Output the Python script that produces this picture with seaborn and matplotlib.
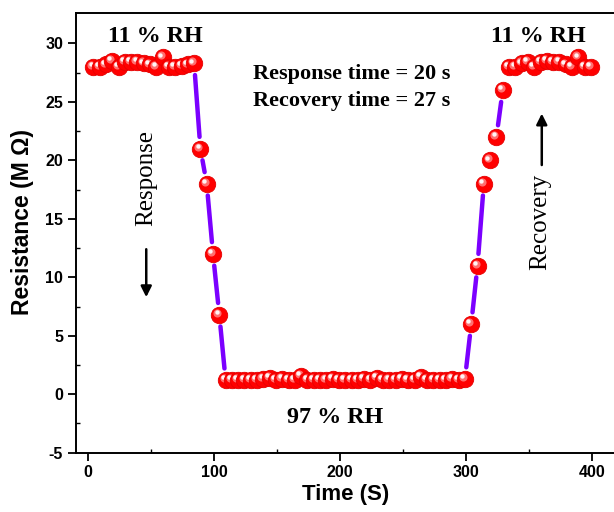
import numpy as np
import pandas as pd
import matplotlib
matplotlib.use("Agg")
import matplotlib.pyplot as plt
import matplotlib.transforms as mtransforms
import seaborn as sns

# Sampling every 5 s
time_s = list(range(4, 400, 5))

# Resistance (MOhm) at each sample
plateau_11_start = [28.0, 28.0, 28.2, 28.5, 28.0, 28.4, 28.4, 28.4, 28.3,
                    28.2, 28.0, 28.8, 28.0, 28.0, 28.1, 28.2, 28.3]
response_drop = [21.0, 18.0, 12.0, 6.8]
plateau_97 = [1.2, 1.2, 1.2, 1.2, 1.2, 1.2, 1.3, 1.4, 1.2, 1.3, 1.2, 1.2, 1.6,
              1.2, 1.2, 1.2, 1.2, 1.3, 1.2, 1.2, 1.2, 1.2, 1.3, 1.2, 1.4, 1.2,
              1.2, 1.2, 1.3, 1.2, 1.2, 1.5, 1.2, 1.2, 1.2, 1.2, 1.3, 1.2, 1.3]
recovery_rise = [6.0, 11.0, 18.0, 20.0, 22.0, 26.0]
plateau_11_end = [28.0, 28.0, 28.3, 28.4, 28.0, 28.4, 28.5, 28.4, 28.4,
                  28.2, 28.0, 28.8, 28.0, 28.0]

resistance = plateau_11_start + response_drop + plateau_97 + recovery_rise + plateau_11_end
df = pd.DataFrame({"time": time_s[:len(resistance)], "resistance": resistance})

x_ticks = [0, 100, 200, 300, 400]
y_ticks = [-5, 0, 5, 10, 15, 20, 25, 30]

sns.set_theme(style="ticks")
plt.rcParams["font.family"] = ["Liberation Sans", "DejaVu Sans"]
plt.rcParams["font.weight"] = "bold"
plt.rcParams["axes.unicode_minus"] = False
for key in ["text.color", "axes.labelcolor", "xtick.color", "ytick.color",
            "axes.edgecolor"]:
    plt.rcParams[key] = "black"

fig = plt.figure(figsize=(6.14, 5.12), dpi=100)
ax = fig.add_axes([0.1233, 0.1158, 0.8795, 0.8588])

# Transition segments drawn as violet lines with gaps around the markers
line_color = "#7B00FF"
xs = df["time"].to_numpy()
ys = df["resistance"].to_numpy()
for i in range(len(xs) - 1):
    if abs(ys[i + 1] - ys[i]) > 2.0:
        ax.annotate("", xy=(xs[i + 1], ys[i + 1]), xytext=(xs[i], ys[i]),
                    arrowprops=dict(arrowstyle="-", color=line_color, lw=3.2,
                                    shrinkA=8.5, shrinkB=8.5, capstyle="round"),
                    zorder=2)

# Shaded spherical markers, drawn one by one so later points overlap earlier ones
spot1 = mtransforms.offset_copy(ax.transData, fig=fig, x=-1.4, y=1.4, units="points")
spot2 = mtransforms.offset_copy(ax.transData, fig=fig, x=-2.0, y=2.0, units="points")
for i, (xv, yv) in enumerate(zip(xs, ys)):
    z = 3 + i * 0.01
    sns.scatterplot(x=[xv], y=[yv], ax=ax, s=140, color="#ff0000",
                    edgecolor="#e40000", linewidth=0.6, zorder=z, legend=False)
    ax.scatter([xv], [yv], s=34, color="#ff7070", linewidths=0,
               transform=spot1, zorder=z + 0.003)
    ax.scatter([xv], [yv], s=10, color="#fff4f4", linewidths=0,
               transform=spot2, zorder=z + 0.006)

ax.set_xlim(-10, 418.7)
ax.set_ylim(-5, 32.6)
ax.set_xticks(x_ticks)
ax.set_yticks(y_ticks)
ax.set_xticks([50, 150, 250, 350], minor=True)
ax.set_yticks(np.arange(-2.5, 32.5, 5), minor=True)

for side in ["top", "right", "left", "bottom"]:
    ax.spines[side].set_visible(True)
    ax.spines[side].set_linewidth(1.4)
    ax.spines[side].set_color("black")

ax.tick_params(which="major", direction="out", length=6, width=1.3,
               labelsize=11.5, pad=3, color="black", labelcolor="black")
ax.tick_params(which="minor", direction="in", length=3, width=1.0, color="black")
for lab in ax.get_xticklabels() + ax.get_yticklabels():
    lab.set_fontweight("bold")

ax.set_xlabel("Time (S)", fontsize=16, fontweight="bold", labelpad=3)
ax.set_ylabel("Resistance (M \u03A9)", fontsize=16.5, fontweight="bold")
ax.yaxis.set_label_coords(-0.078, 0.525)

serif = ["Liberation Serif", "DejaVu Serif"]
ax.text(53, 30.6, "11 % RH", fontsize=17.4, fontweight="bold", family=serif,
        ha="center", va="center")
ax.text(357, 30.6, "11 % RH", fontsize=17.4, fontweight="bold", family=serif,
        ha="center", va="center")
ax.text(196, -2.0, "97 % RH", fontsize=17.4, fontweight="bold", family=serif,
        ha="center", va="center")
ax.text(131, 27.4, "Response time = 20 s", fontsize=16, fontweight="bold",
        family=serif, ha="left", va="center")
ax.text(131, 25.1, "Recovery time = 27 s", fontsize=16, fontweight="bold",
        family=serif, ha="left", va="center")

ax.text(46, 18.5, "Response", fontsize=18, fontweight="normal", family=serif,
        rotation=90, ha="center", va="center")
ax.text(359, 14.7, "Recovery", fontsize=18, fontweight="normal", family=serif,
        rotation=90, ha="center", va="center")

arrow = dict(arrowstyle="-|>", color="black", lw=1.8, mutation_scale=16,
             shrinkA=0, shrinkB=0)
ax.annotate("", xy=(46, 8.3), xytext=(46, 12.4), arrowprops=arrow)
ax.annotate("", xy=(360, 24.0), xytext=(360, 19.6), arrowprops=arrow)

fig.savefig("out.png", dpi=100)
